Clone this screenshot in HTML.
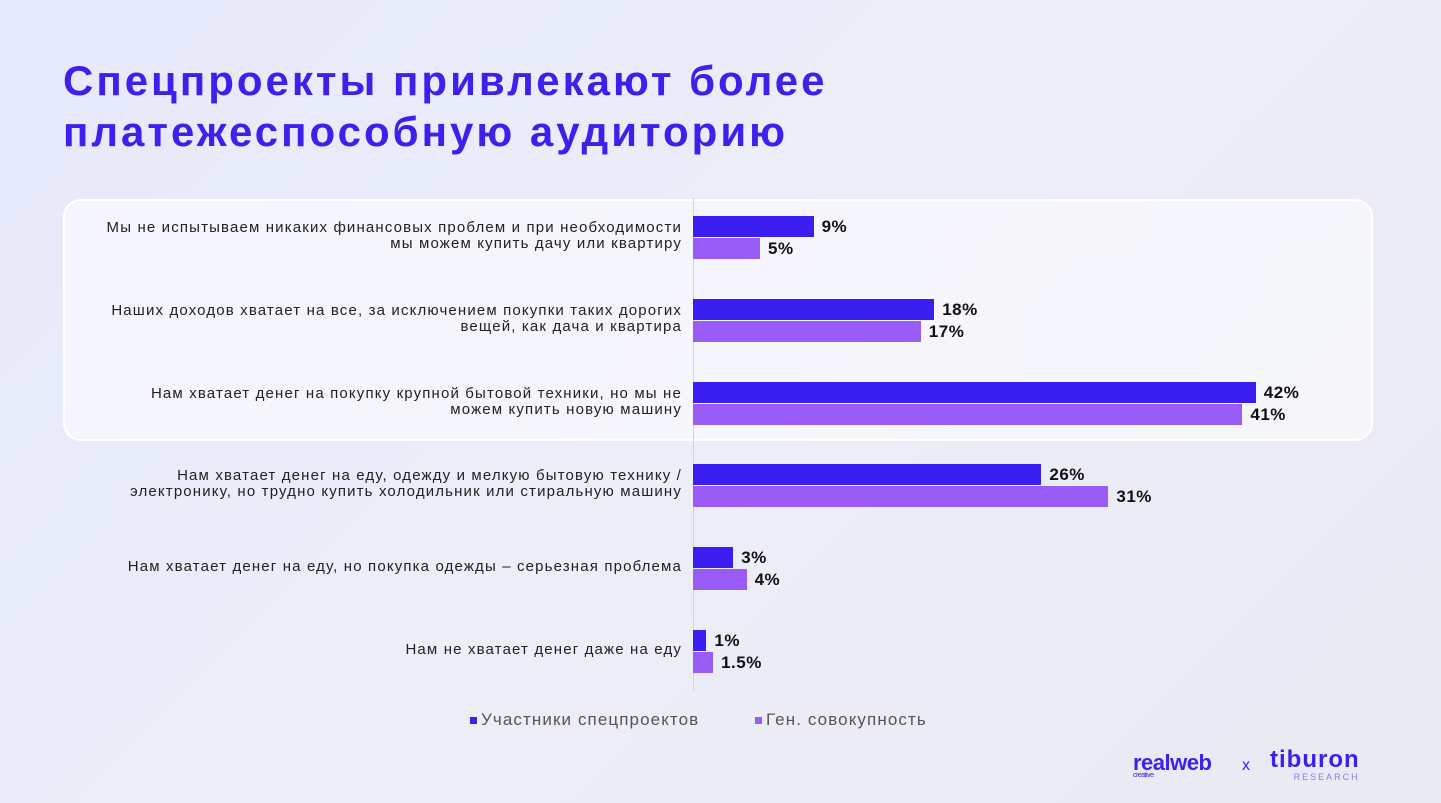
<!DOCTYPE html>
<html><head><meta charset="utf-8"><style>
body{margin:0;width:1441px;height:803px;overflow:hidden;background:linear-gradient(135deg,#e6e9fb 0%,#eceef8 50%,#e9e9f2 100%);font-family:"Liberation Sans","DejaVu Sans",sans-serif;position:relative}
h1{position:absolute;left:63px;top:55px;margin:0;font-size:42px;line-height:51px;font-weight:bold;color:#3d20ee;letter-spacing:3px}
#hl{position:absolute;left:63px;top:199px;width:1310px;height:242px;border:2px solid #fff;border-radius:18px;background:rgba(255,255,255,0.5);box-sizing:border-box}
.lbl{position:absolute;right:759px;text-align:right;font-size:15px;line-height:16px;color:#222;letter-spacing:1.15px;white-space:nowrap}
.val{position:absolute;font-size:17px;font-weight:bold;color:#111;letter-spacing:0.5px}
.legend{position:absolute;top:710px;font-size:17px;color:#555;letter-spacing:1.1px}
.sq{display:inline-block;width:7px;height:7px;margin-right:4px;vertical-align:middle}
</style></head><body>
<h1>Спецпроекты привлекают более<br>платежеспособную аудиторию</h1>
<div id="hl"></div>
<div id="chart"></div>
<div class="legend" style="left:470px"><span class="sq" style="background:#3a1ff0"></span>Участники спецпроектов</div>
<div class="legend" style="left:755px"><span class="sq" style="background:#9a5cf6"></span>Ген. совокупность</div>
<div style="position:absolute;left:1133px;top:750px;font-size:22px;font-weight:bold;color:#3d20ee;letter-spacing:-0.5px">realweb<div style="font-size:7px;font-weight:normal;margin-top:-4px">creative</div></div>
<div style="position:absolute;left:1242px;top:757px;font-size:16px;color:#3d20ee">x</div>
<div style="position:absolute;left:1270px;top:746px;font-size:24px;font-weight:bold;color:#3d20ee;letter-spacing:1px">tiburon<div style="font-size:9px;font-weight:normal;letter-spacing:2px;color:#8a7cf0;text-align:right;margin-top:-2px">RESEARCH</div></div>
<script>
const categories=["Мы не испытываем никаких финансовых проблем и при необходимости<br>мы можем купить дачу или квартиру","Наших доходов хватает на все, за исключением покупки таких дорогих<br>вещей, как дача и квартира","Нам хватает денег на покупку крупной бытовой техники, но мы не<br>можем купить новую машину","Нам хватает денег на еду, одежду и мелкую бытовую технику /<br>электронику, но трудно купить холодильник или стиральную машину","Нам хватает денег на еду, но покупка одежды – серьезная проблема","Нам не хватает денег даже на еду"];
const participants=[9,18,42,26,3,1];
const population=[5,17,41,31,4,1.5];
const partLabels=["9%","18%","42%","26%","3%","1%"];
const popLabels=["5%","17%","41%","31%","4%","1.5%"];
const x0=693,scale=13.4,y0=216,step=82.8,bh=21;
const xs=v=>v*scale;
const c=document.getElementById('chart');
const ax=document.createElement('div');


ax.style.cssText=`position:absolute;left:${x0}px;top:198px;width:1px;height:492px;background:#d4d4dc`;
c.appendChild(ax);
categories.forEach((cat,i)=>{
 const y=y0+i*step;
 const l=document.createElement('div');l.className='lbl';
 
 
 l.innerHTML=cat;l.style.top=(y+(cat.includes('<br>')?4:12))+'px';c.appendChild(l);
 [[participants[i],partLabels[i],'#3a1ff0',0,'bar-participants'],[population[i],popLabels[i],'#9a5cf6',bh+1,'bar-population']].forEach(([v,t,col,dy,nm])=>{
  const b=document.createElement('div');
  
  
  b.style.cssText=`position:absolute;left:${x0}px;top:${y+dy}px;width:${xs(v)}px;height:${bh}px;background:${col}`;
  c.appendChild(b);
  const tv=document.createElement('div');tv.className='val';
  
  
  tv.textContent=t;tv.style.left=(x0+xs(v)+8)+'px';tv.style.top=(y+dy+1)+'px';c.appendChild(tv);
 });
});
</script>
</body></html>
